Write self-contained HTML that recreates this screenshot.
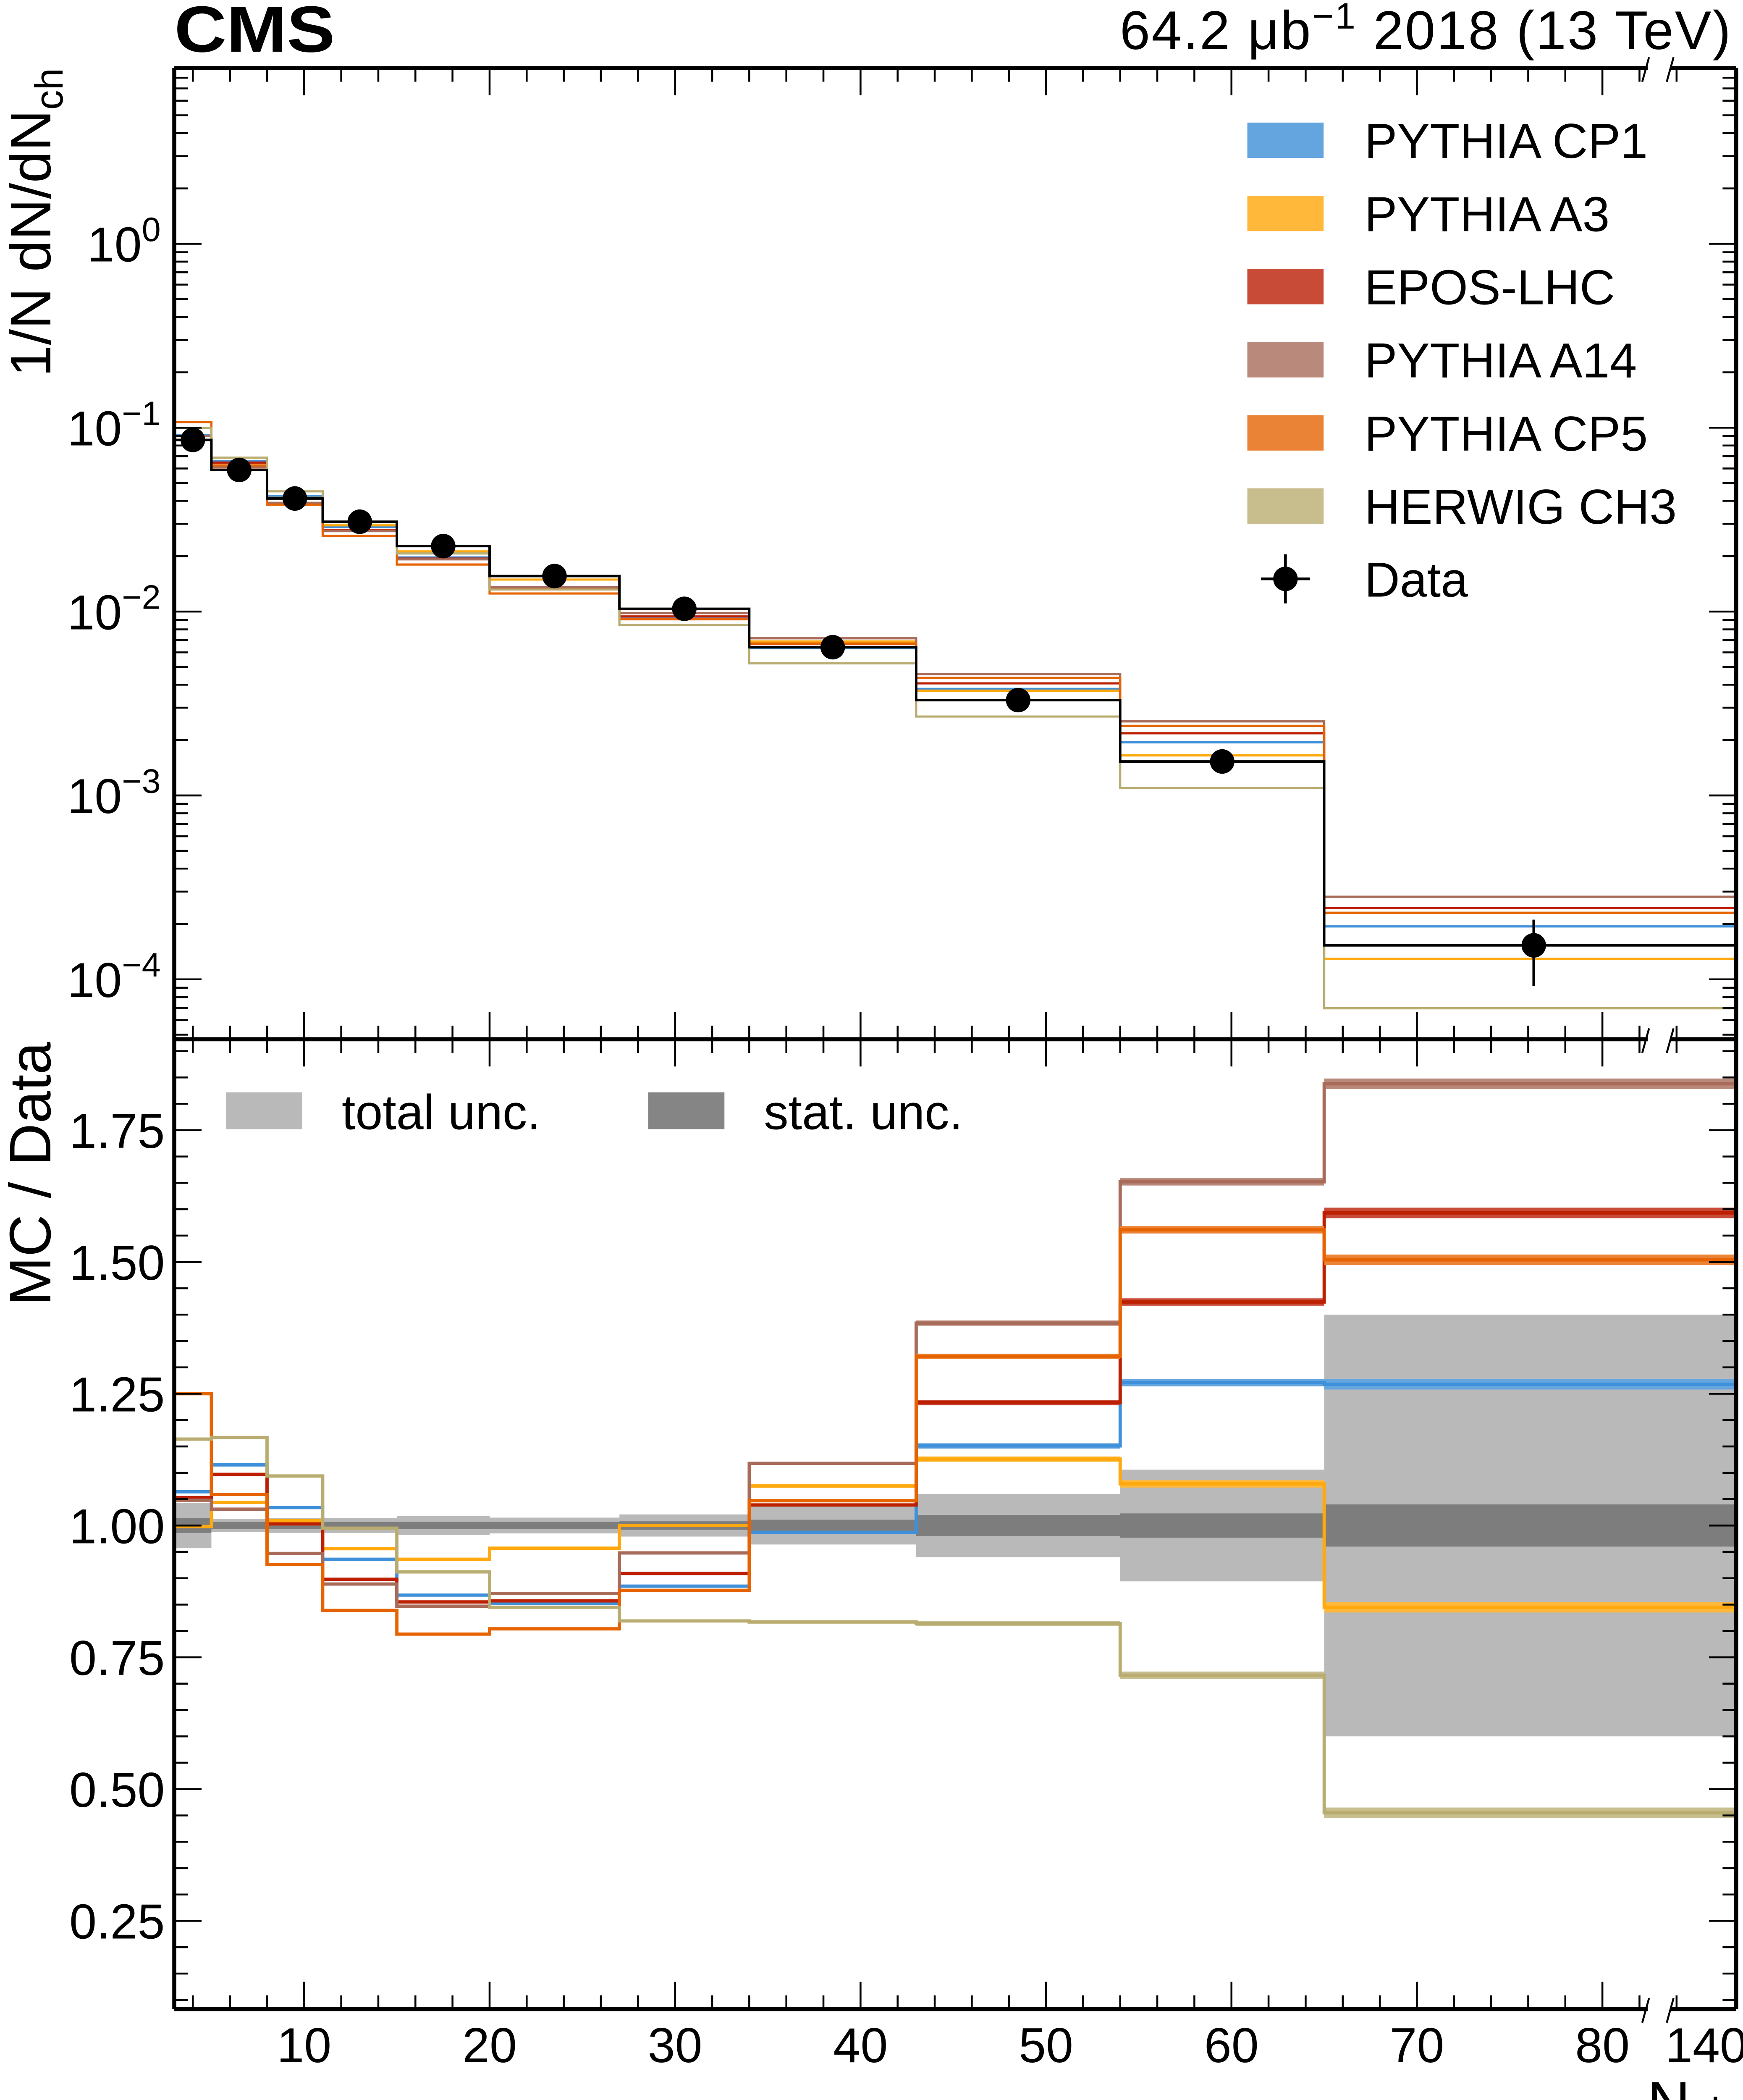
<!DOCTYPE html>
<html><head><meta charset="utf-8"><style>
html,body{margin:0;padding:0;background:#fff;overflow:hidden;}
svg{display:block;}
text{font-family:"Liberation Sans",sans-serif;fill:#000;}
</style></head><body>
<svg id="chart" xmlns="http://www.w3.org/2000/svg" width="4151" height="5087" viewBox="0 0 1280 1568.6" preserveAspectRatio="none">
<defs>
<clipPath id="clipTop"><rect x="128" y="50" width="1147" height="713"/></clipPath>
<clipPath id="clipBot"><rect x="128" y="763" width="1147" height="712"/></clipPath>
</defs>
<g id="bands" clip-path="url(#clipBot)"></g>
<g id="topLines" clip-path="url(#clipTop)"></g>
<g id="botLines" clip-path="url(#clipBot)"></g>
<g id="dataG"></g>
<g id="axes"></g>
<text x="128" y="38" font-size="48" font-weight="bold" textLength="118" lengthAdjust="spacingAndGlyphs">CMS</text>
<text x="1272" y="36" font-size="40" letter-spacing="1" text-anchor="end">64.2 μb<tspan dy="-15" font-size="27">−1</tspan><tspan dy="15"> 2018 (13 TeV)</tspan></text>
<text transform="translate(37,50) rotate(-90)" font-size="42" text-anchor="end">1/N dN/dN<tspan dy="9" font-size="29">ch</tspan></text>
<text transform="translate(37,765) rotate(-90)" font-size="43" text-anchor="end">MC / Data</text>
<text x="1273" y="1559" font-size="44" text-anchor="end">N<tspan dy="2" font-size="30">ch</tspan></text>
<g id="legend"></g>
<g>
<rect x="166" y="802" width="56" height="27" fill="#b9b9b9"/>
<text x="251" y="829" font-size="36">total unc.</text>
<rect x="476" y="802" width="56" height="27" fill="#858585"/>
<text x="561" y="829" font-size="36">stat. unc.</text>
</g>
</svg>
<script>
const edges=[3,5,8,11,15,20,27,34,43,54,65,140];
const dataX=[4,6.5,9.5,13,17.5,23.5,30.5,38.5,48.5,59.5,76.3];
const dataY=[0.0858,0.0589,0.0412,0.0308,0.0227,0.0156,0.01035,0.0064,0.0033,0.00153,0.000153];
const dataErrUp=[0.02,0.02,0.02,0.02,0.02,0.02,0.02,0.02,0.03,0.05,0.38];
const dataErrDn=[0.02,0.02,0.02,0.02,0.02,0.02,0.02,0.02,0.03,0.05,0.40];
const cp1=[1.064,1.115,1.034,0.936,0.868,0.852,0.885,0.987,1.151,1.271,1.268];
const a3=[0.998,1.044,1.009,0.956,0.936,0.957,1.0,1.075,1.126,1.079,0.845];
const epos=[1.053,1.097,1.003,0.898,0.855,0.857,0.909,1.039,1.233,1.424,1.593];
const a14=[1.048,1.031,0.947,0.889,0.847,0.871,0.948,1.118,1.384,1.652,1.838];
const cp5=[1.25,1.059,0.926,0.839,0.794,0.804,0.877,1.047,1.321,1.561,1.504];
const herwig=[1.164,1.167,1.094,0.995,0.912,0.845,0.819,0.817,0.814,0.716,0.455];
const mcStat=[0,0,0,0,0,0,0,0.003,0.005,0.007,0.01];
const totUnc=[0.043,0.012,0.014,0.014,0.018,0.015,0.021,0.036,0.06,0.106,0.40];
const statUnc=[0.014,0.007,0.007,0.007,0.007,0.007,0.008,0.011,0.02,0.023,0.04];
const xTickVals=[10,20,30,40,50,60,70,80];
const xTickLabels=["10","20","30","40","50","60","70","80"];
const logTickExps=[0,-1,-2,-3,-4];
const ratioTicks=[0.25,0.5,0.75,1.0,1.25,1.5,1.75];
const ratioTickLabels=["0.25","0.50","0.75","1.00","1.25","1.50","1.75"];
const seriesNames=["PYTHIA CP1","PYTHIA A3","EPOS-LHC","PYTHIA A14","PYTHIA CP5","HERWIG CH3"];
const seriesLine=["#3f90da","#ffa90e","#bd1f01","#a96b59","#e76300","#b9ac70"];
const seriesSwatch=["#64a5e0","#ffb83a","#c84b38","#b98a7c","#ea8336","#c8bd8d"];
const ratios=[cp1,a3,epos,a14,cp5,herwig];

const NS="http://www.w3.org/2000/svg";
const L=128,R=1275,T=50,MID=763,B=1475;
function xs(v){ if(v>=140) return R; return L+(v-3)*13.62; }
function ylog(v){ return 179-135*Math.log10(v); }
function yr(r){ return 1120-(r-1)*387; }
function mk(tag,attrs,parent){const e=document.createElementNS(NS,tag);for(const k in attrs)e.setAttribute(k,attrs[k]);parent.appendChild(e);return e;}
const g=id=>document.getElementById(id);

for(let i=0;i<11;i++){
  const x0=xs(edges[i]),x1=xs(edges[i+1]);
  const r1=mk('rect',{x:x0,y:yr(1+totUnc[i]),width:x1-x0,height:yr(1-totUnc[i])-yr(1+totUnc[i]),fill:'#b9b9b9'},g('bands'));
  
  
  const r2=mk('rect',{x:x0,y:yr(1+statUnc[i]),width:x1-x0,height:yr(1-statUnc[i])-yr(1+statUnc[i]),fill:'#7d7d7d'},g('bands'));
  
  
}
function stepPath(vals,fy){
  let d='M'+xs(edges[0])+' '+fy(vals[0])+' H'+xs(edges[1]);
  for(let i=1;i<vals.length;i++){d+=' V'+fy(vals[i])+' H'+xs(edges[i+1]);}
  return d;
}
ratios.forEach((rs,k)=>{
  const vals=rs.map((r,i)=>r*dataY[i]);
  const p=mk('path',{d:stepPath(vals,ylog),fill:'none',stroke:seriesLine[k],'stroke-width':1.6},g('topLines'));
  
  
});
const ds=mk('path',{d:stepPath(dataY,ylog),fill:'none',stroke:'#000','stroke-width':1.8},g('topLines'));


ratios.forEach((rs,k)=>{
  rs.forEach((r,i)=>{
    if(mcStat[i]<=0) return;
    const x0=xs(edges[i]),x1=xs(edges[i+1]);
    const b=mk('rect',{x:x0,y:yr(r+mcStat[i]),width:x1-x0,height:yr(r-mcStat[i])-yr(r+mcStat[i]),fill:seriesSwatch[k]},g('botLines'));
    
    
  });
  const p=mk('path',{d:stepPath(rs,yr),fill:'none',stroke:seriesLine[k],'stroke-width':2.4},g('botLines'));
  
  
});
dataY.forEach((v,i)=>{
  const cx=xs(dataX[i]),cy=ylog(v);
  const e=mk('line',{x1:cx,x2:cx,y1:ylog(v*(1+dataErrUp[i])),y2:ylog(v*(1-dataErrDn[i])),stroke:'#000','stroke-width':2},g('dataG'));
  
  
  const c=mk('circle',{cx:cx,cy:cy,r:9,fill:'#000'},g('dataG'));
  
  
});
const ax=g('axes');
[[L,T,L,B],[R,T,R,B],[L,T,R,T],[L,MID,R,MID],[L,B,R,B]].forEach(a=>{
  const ln=mk('line',{x1:a[0],y1:a[1],x2:a[2],y2:a[3],stroke:'#000','stroke-width':3},ax);
  
  
});
for(let v=4;v<=84;v+=2){
  const major=v%10===0, len=major?20:10, x=xs(v);
  [[T,T+len],[MID,MID-len],[MID,MID+len],[B,B-len]].forEach(p=>{
    const t=mk('line',{x1:x,x2:x,y1:p[0],y2:p[1],stroke:'#000','stroke-width':1.4},ax);
    
    
  });
}
xTickVals.forEach((v,i)=>{
  const t=mk('text',{x:xs(v),y:1514,'font-size':36,'text-anchor':'middle'},ax);
  
  
  t.textContent=xTickLabels[i];
});
const t140=mk('text',{x:1253,y:1514,'font-size':36,'text-anchor':'middle'},ax);


t140.textContent='140';
[T,MID,B].forEach(y=>{
  const w=mk('rect',{x:1210,y:y-3,width:17,height:6,fill:'#fff'},ax);
  
  
  [1206,1224].forEach(x=>{
    const s=mk('line',{x1:x,y1:y+10,x2:x+5,y2:y-8,stroke:'#000','stroke-width':1.4},ax);
    
    
  });
});
for(let e=-5;e<=0;e++){
  for(let m=1;m<=9;m++){
    const v=m*Math.pow(10,e), y=ylog(v);
    if(y<T||y>MID) continue;
    const len=m===1?20:10;
    [[L,L+len],[R,R-len]].forEach(p=>{
      const t=mk('line',{x1:p[0],x2:p[1],y1:y,y2:y,stroke:'#000','stroke-width':1.4},ax);
      
      
    });
  }
}
logTickExps.forEach(e=>{
  const y=ylog(Math.pow(10,e));
  const t=mk('text',{x:118,y:y+13,'font-size':36,'text-anchor':'end'},ax);
  
  
  t.innerHTML='10<tspan dy="-15" font-size="25">'+(e===0?'0':'−'+(-e))+'</tspan>';
});
for(let k=2;k<=38;k++){
  const r=k*0.05, y=yr(r);
  if(y<MID||y>B) continue;
  const major=k%5===0, len=major?20:10;
  [[L,L+len],[R,R-len]].forEach(p=>{
    const t=mk('line',{x1:p[0],x2:p[1],y1:y,y2:y,stroke:'#000','stroke-width':1.4},ax);
    
    
  });
}
ratioTicks.forEach((r,i)=>{
  const t=mk('text',{x:121,y:yr(r)+13,'font-size':36,'text-anchor':'end'},ax);
  
  
  t.textContent=ratioTickLabels[i];
});
const lg=g('legend');
seriesNames.forEach((n,k)=>{
  const cy=103+k*53.7;
  const s=mk('rect',{x:916,y:cy-13,width:56,height:26,fill:seriesSwatch[k]},lg);
  
  
  const t=mk('text',{x:1002,y:cy+13,'font-size':36},lg);
  
  
  t.textContent=n;
});
const dy0=425;
const dl1=mk('line',{x1:926,x2:962,y1:dy0,y2:dy0,stroke:'#000','stroke-width':2},lg);


const dl2=mk('line',{x1:944,x2:944,y1:dy0-18,y2:dy0+18,stroke:'#000','stroke-width':2},lg);


const dc=mk('circle',{cx:944,cy:dy0,r:9,fill:'#000'},lg);


const dt=mk('text',{x:1002,y:dy0+13,'font-size':36},lg);


dt.textContent='Data';
</script>
</body></html>
